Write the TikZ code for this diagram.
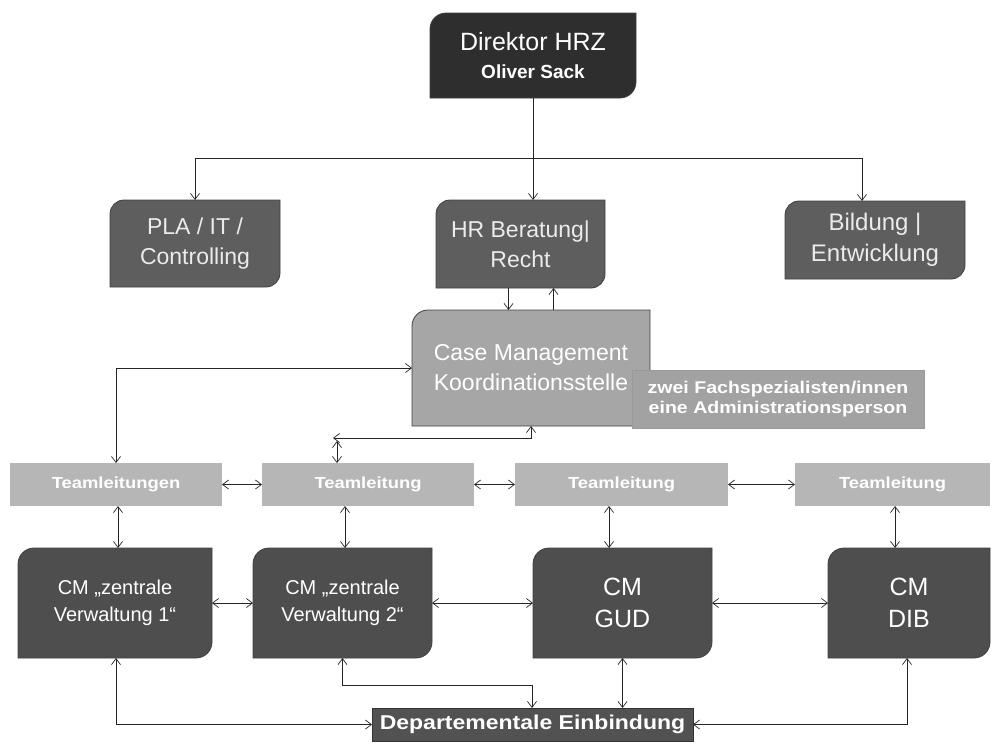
\documentclass[tikz,border=0pt]{standalone}
\usepackage{fontspec}
\setmainfont{Liberation Sans}
\newfontfamily\wfont[FakeStretch=1.15]{Liberation Sans}
\usetikzlibrary{arrows.meta}
\pgfdeclarelayer{bg}
\pgfsetlayers{bg,main}
\definecolor{cdir}{HTML}{2E2E2E}
\definecolor{cmid}{HTML}{5E5E5E}
\definecolor{ccm}{HTML}{4E4E4E}
\definecolor{ccase}{HTML}{A6A6A6}
\definecolor{czwei}{HTML}{A2A2A2}
\definecolor{cteam}{HTML}{B6B6B6}
\definecolor{cdep}{HTML}{525252}
\newcommand\dgfill[3]{%
  \fill[#2,draw=black!75,line width=0.8pt] ([yshift=-#3]#1.north west) arc[start angle=180,end angle=90,radius=#3]
    -- (#1.north east) -- ([yshift=#3]#1.south east) arc[start angle=0,end angle=-90,radius=#3]
    -- (#1.south west) -- cycle;}
\tikzset{
  bx/.style={rectangle,outer sep=0pt,inner sep=2pt,align=center,text=white},
  bigtxt/.style={font=\fontsize{23}{30}\selectfont},
  teamtxt/.style={font=\fontsize{16}{18}\selectfont\wfont\bfseries},
  zweitxt/.style={font=\fontsize{17}{20}\selectfont\wfont\bfseries},
  cmtxt/.style={font=\fontsize{20}{27}\selectfont},
  cmbig/.style={font=\fontsize{25}{32}\selectfont},
  conn/.style={line width=0.7pt,draw=black!85},
  >={Straight Barb[length=6pt,width=9pt]},
}
\begin{document}
\begin{tikzpicture}[x=1pt,y=-1pt]
\useasboundingbox (0,0) rectangle (998,744);
% nodes
\node[bx,font=\fontsize{25}{28}\selectfont,minimum width=206pt,minimum height=85pt] (dir) at (533,55.5)
  {Direktor HRZ\\{\fontsize{19}{22}\selectfont\bfseries Oliver Sack}};
\node[bx,bigtxt,minimum width=170pt,minimum height=87pt,text=black!8] (pla) at (195,243.5) {PLA / IT /\\Controlling};
\node[bx,bigtxt,minimum width=169pt,minimum height=88pt,text=black!8] (hr) at (520.5,244) {HR Beratung|\\Recht};
\node[bx,font=\fontsize{24}{31}\selectfont,minimum width=180pt,minimum height=78pt,text=black!8] (bild) at (875,240) {Bildung |\\Entwicklung};
\node[bx,bigtxt,minimum width=238pt,minimum height=116pt] (cm) at (531,368) {Case Management\\Koordinationsstelle};
\node[bx,teamtxt,minimum width=212pt,minimum height=43pt] (t1) at (116,484.5) {Teamleitungen};
\node[bx,teamtxt,minimum width=212pt,minimum height=43pt] (t2) at (368,484.5) {Teamleitung};
\node[bx,teamtxt,minimum width=213pt,minimum height=43pt] (t3) at (621.5,484.5) {Teamleitung};
\node[bx,teamtxt,minimum width=195pt,minimum height=43pt] (t4) at (892.5,484.5) {Teamleitung};
\node[bx,cmtxt,minimum width=194pt,minimum height=110pt] (c1) at (115,603) {CM „zentrale\\Verwaltung 1“};
\node[bx,cmtxt,minimum width=179pt,minimum height=110pt] (c2) at (342.5,603) {CM „zentrale\\Verwaltung 2“};
\node[bx,cmbig,minimum width=179pt,minimum height=110pt] (c3) at (622.5,603) {CM\\GUD};
\node[bx,cmbig,minimum width=162pt,minimum height=110pt] (c4) at (909,603) {CM\\DIB};
\node[bx,font=\fontsize{20}{24}\selectfont\wfont\bfseries,minimum width=321pt,minimum height=33pt] (dep) at (532.5,724.5) {Departementale Einbindung};
% backgrounds
\begin{pgfonlayer}{bg}
\dgfill{dir}{cdir}{16pt}
\dgfill{pla}{cmid}{14pt}
\dgfill{hr}{cmid}{14pt}
\dgfill{bild}{cmid}{14pt}
\dgfill{cm}{ccase}{16pt}
\dgfill{c1}{ccm}{16pt}
\dgfill{c2}{ccm}{16pt}
\dgfill{c3}{ccm}{16pt}
\dgfill{c4}{ccm}{16pt}
\foreach \t in {t1,t2,t3,t4}{\fill[cteam] (\t.north west) rectangle (\t.south east);}
\fill[cdep,draw=black!80] (dep.north west) rectangle (dep.south east);
\end{pgfonlayer}
\node[bx,zweitxt,minimum width=292pt,minimum height=58pt,fill=czwei,draw=black!40] (zwei) at (778,399)
  {zwei Fachspezialisten/innen\\eine Administrationsperson};
% connectors
\coordinate (j) at (533,158);
\draw[conn] (dir.south -| j) -- (j);
\draw[conn,->] (j) -| (pla.north);
\draw[conn,->] (j |- dir.south) -- (j |- hr.north);
\draw[conn,->] (j) -| ([xshift=-13pt]bild.north);
\draw[conn,->] ([xshift=-12pt]hr.south) -- ([xshift=-12pt]hr.south |- cm.north);
\draw[conn,->] ([xshift=33pt]hr.south |- cm.north) -- ([xshift=33pt]hr.south);
\draw[conn,<->] (cm.west) -| (t1.north);
\coordinate (k) at (333,438);
\draw[conn,<->] (k) -| (cm.south);
\coordinate (k2) at (337,441);
\draw[conn,<->] (k2) -- (k2 |- t2.north);
\draw[conn,<->] (t1) -- (t2);
\draw[conn,<->] (t2) -- (t3);
\draw[conn,<->] (t3) -- (t4);
\draw[conn,<->] ([xshift=2pt]t1.south) -- ([xshift=2pt]t1.south |- c1.north);
\draw[conn,<->] ([xshift=2.5pt]c2.north |- t2.south) -- ([xshift=2.5pt]c2.north);
\draw[conn,<->] ([xshift=-13.5pt]c3.north |- t3.south) -- ([xshift=-13.5pt]c3.north);
\draw[conn,<->] ([xshift=2.5pt]t4.south) -- ([xshift=2.5pt]t4.south |- c4.north);
\draw[conn,<->] (c1) -- (c2);
\draw[conn,<->] (c2) -- (c3);
\draw[conn,<->] (c3) -- (c4);
\draw[conn,<->] ([xshift=1pt]c1.south) |- (dep.west);
\coordinate (m) at (532,685);
\draw[conn,<->] (c2.south) |- (m) -- (m |- dep.north);
\draw[conn,<->] (c3.south) -- (c3.south |- dep.north);
\draw[conn,<->] ([xshift=-2pt]c4.south) |- (dep.east);
\end{tikzpicture}
\end{document}
